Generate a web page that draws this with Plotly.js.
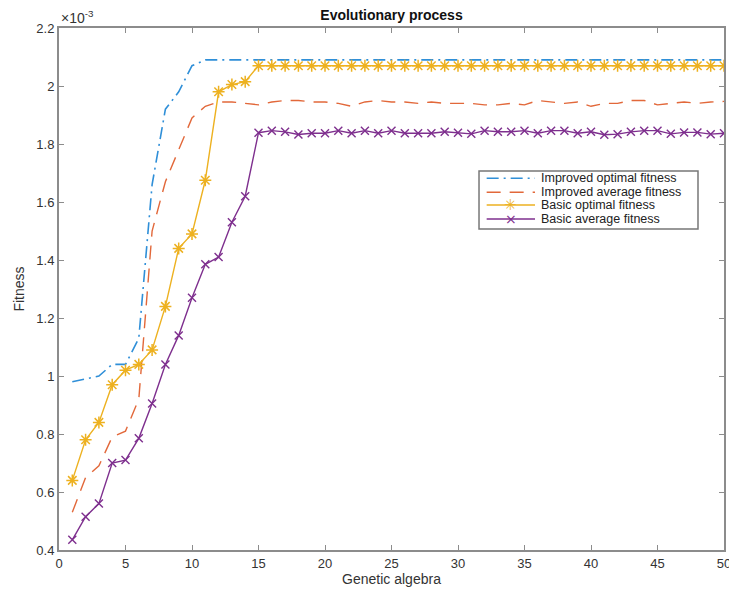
<!DOCTYPE html>
<html>
<head>
<meta charset="utf-8">
<script src="https://cdn.plot.ly/plotly-3.0.1.min.js"></script>
<style>
  html, body { margin: 0; padding: 0; background: #ffffff; }
  #chart { width: 729px; height: 590px; }
</style>
</head>
<body>
<div id="chart"></div>
<script>
// Generations (x axis)
const generations = [1,2,3,4,5,6,7,8,9,10,11,12,13,14,15,16,17,18,19,20,21,22,23,24,25,26,27,28,29,30,31,32,33,34,35,36,37,38,39,40,41,42,43,44,45,46,47,48,49,50];

// Fitness values in units of 1e-3
const improvedOptimal = [0.98,0.99,1.00,1.04,1.04,1.13,1.66,1.92,1.98,2.07,2.09,2.09,2.09,2.09,2.09,2.09,2.09,2.09,2.09,2.09,2.09,2.09,2.09,2.09,2.09,2.09,2.09,2.09,2.09,2.09,2.09,2.09,2.09,2.09,2.09,2.09,2.09,2.09,2.09,2.09,2.09,2.09,2.09,2.09,2.09,2.09,2.09,2.09,2.09,2.09];
const improvedAverage = [0.53,0.65,0.69,0.79,0.81,0.92,1.50,1.67,1.78,1.89,1.93,1.945,1.945,1.94,1.935,1.945,1.95,1.95,1.945,1.945,1.94,1.93,1.945,1.95,1.945,1.945,1.94,1.945,1.94,1.94,1.94,1.935,1.935,1.94,1.935,1.95,1.945,1.94,1.945,1.93,1.94,1.94,1.95,1.95,1.935,1.94,1.945,1.94,1.945,1.947];
const basicOptimal = [0.64,0.78,0.84,0.97,1.02,1.04,1.09,1.24,1.44,1.49,1.675,1.98,2.005,2.015,2.07,2.07,2.07,2.07,2.07,2.07,2.07,2.07,2.07,2.07,2.07,2.07,2.07,2.07,2.07,2.07,2.07,2.07,2.07,2.07,2.07,2.07,2.07,2.07,2.07,2.07,2.07,2.07,2.07,2.07,2.07,2.07,2.07,2.07,2.07,2.07];
const basicAverage = [0.435,0.515,0.56,0.70,0.71,0.785,0.905,1.04,1.14,1.27,1.385,1.41,1.53,1.62,1.839,1.846,1.842,1.833,1.837,1.837,1.846,1.837,1.846,1.837,1.846,1.837,1.837,1.837,1.842,1.839,1.835,1.846,1.842,1.842,1.846,1.837,1.846,1.846,1.837,1.842,1.832,1.834,1.842,1.846,1.846,1.835,1.84,1.84,1.834,1.837];

const seriesNames = ["Improved optimal fitness","Improved average fitness","Basic optimal fitness","Basic average fitness"];
const seriesColors = ["#2f8fd8", "#e2683a", "#EDB120", "#7E2F8E"];
const seriesDash = ["12px,5px,2px,5px", "14px,9px", "solid", "solid"];
const legendGlyphs = ["", "", "✳", "×"];
const xTicks = [0,5,10,15,20,25,30,35,40,45,50];
const yTicks = [0.4,0.6,0.8,1,1.2,1.4,1.6,1.8,2,2.2];

const FONT = "Liberation Sans, Arial, sans-serif";

const traces = [
  {x: generations, y: improvedOptimal, name: seriesNames[0], mode: "lines",
   line: {color: seriesColors[0], width: 1.6, dash: seriesDash[0]}},
  {x: generations, y: improvedAverage, name: seriesNames[1], mode: "lines",
   line: {color: seriesColors[1], width: 1.4, dash: seriesDash[1]}},
  {x: generations, y: basicOptimal, name: seriesNames[2], mode: "lines+markers",
   line: {color: seriesColors[2], width: 1.4},
   marker: {symbol: "asterisk-open", size: 10, color: seriesColors[2], line: {color: seriesColors[2], width: 1.5}}},
  {x: generations, y: basicAverage, name: seriesNames[3], mode: "lines+markers",
   line: {color: seriesColors[3], width: 1.4},
   marker: {symbol: "x-thin-open", size: 8, color: seriesColors[3], line: {color: seriesColors[3], width: 1.4}}}
];

const axisCommon = {
  showgrid: false, zeroline: false, showline: true, linecolor: "#8c8c8c", linewidth: 2,
  mirror: "ticks", ticks: "inside", ticklen: 5, tickwidth: 1, tickcolor: "#8c8c8c",
  ticklabeloverflow: "allow",
  tickfont: {family: FONT, size: 13, color: "#333333"}
};

// Legend box (paper coordinates), MATLAB-style compact legend
const legBox = {x0: 0.6316, x1: 0.9609, y0: 0.6149, y1: 0.7261};
const legRowsY = [0.7121, 0.6852, 0.6609, 0.6341];
const legLineX = [0.6431, 0.7158];
const legMarkX = 0.6792;
const legTextX = 0.7233;

const shapes = [
  {type: "rect", xref: "paper", yref: "paper", x0: legBox.x0, x1: legBox.x1, y0: legBox.y0, y1: legBox.y1,
   fillcolor: "#ffffff", line: {color: "#777777", width: 1.5}, layer: "above"}
];
const annotations = [
  {xref: "paper", yref: "paper", x: 0, y: 1, xanchor: "left", yanchor: "bottom", yshift: 0,
   text: "×10<sup>-3</sup>", showarrow: false, font: {family: FONT, size: 14, color: "#333333"}}
];
seriesNames.forEach(function (name, i) {
  shapes.push({type: "line", xref: "paper", yref: "paper",
    x0: legLineX[0], x1: legLineX[1], y0: legRowsY[i], y1: legRowsY[i],
    line: {color: seriesColors[i], width: 1.5, dash: seriesDash[i]}, layer: "above"});
  annotations.push({xref: "paper", yref: "paper", x: legTextX, y: legRowsY[i],
    xanchor: "left", yanchor: "middle", text: name, showarrow: false, borderpad: 0,
    font: {family: FONT, size: 12.5, color: "#222222"}});
  if (legendGlyphs[i]) {
    annotations.push({xref: "paper", yref: "paper", x: legMarkX, y: legRowsY[i],
      xanchor: "center", yanchor: "middle", text: legendGlyphs[i], showarrow: false, borderpad: 0,
      font: {family: "DejaVu Sans, sans-serif", size: i === 2 ? 15 : 14, color: seriesColors[i]}});
  }
});

const layout = {
  width: 729, height: 590,
  margin: {l: 59, r: 5, t: 28, b: 40},
  paper_bgcolor: "#ffffff", plot_bgcolor: "#ffffff",
  title: {text: "<b>Evolutionary process</b>", font: {family: FONT, size: 14, color: "#111111"},
          x: 0.5, xref: "paper", y: 0.975, yanchor: "middle"},
  xaxis: Object.assign({}, axisCommon, {
    range: [0, 50], tickvals: xTicks, ticktext: xTicks.map(String),
    title: {text: "Genetic algebra", font: {family: FONT, size: 14, color: "#333333"}, standoff: 2}
  }),
  yaxis: Object.assign({}, axisCommon, {
    range: [0.4, 2.2], tickvals: yTicks, ticktext: yTicks.map(String),
    title: {text: "Fitness", font: {family: FONT, size: 14, color: "#333333"}, standoff: 8}
  }),
  showlegend: false,
  shapes: shapes,
  annotations: annotations
};

Plotly.newPlot("chart", traces, layout, {displayModeBar: false, staticPlot: true});
</script>
</body>
</html>
